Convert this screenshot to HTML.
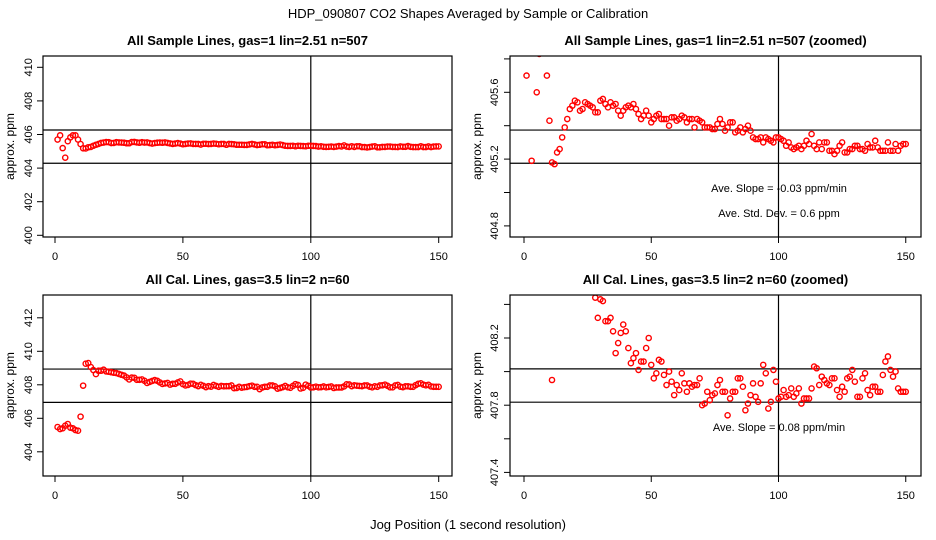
<!DOCTYPE html>
<html><head><meta charset="utf-8"><style>
html,body{margin:0;padding:0;background:#fff;width:936px;height:540px;overflow:hidden;}
svg{display:block;font-family:"Liberation Sans",sans-serif;overflow:hidden;}
</style></head><body>
<svg id="c" width="936" height="540">
<text x="468" y="18" text-anchor="middle" font-size="13">HDP_090807  CO2 Shapes Averaged by Sample or Calibration</text>
<text x="468" y="529" text-anchor="middle" font-size="13">Jog Position (1 second resolution)</text>
</svg>
<script>
const sampleVals=[405.70,405.95,405.19,404.62,405.60,405.83,405.95,405.95,405.70,405.43,405.18,405.17,405.24,405.26,405.33,405.39,405.44,405.50,405.52,405.55,405.54,405.49,405.50,405.54,405.53,405.52,405.51,405.48,405.48,405.55,405.56,405.53,405.51,405.54,405.52,405.53,405.49,405.46,405.49,405.51,405.52,405.51,405.53,405.50,405.47,405.44,405.46,405.49,405.46,405.42,405.44,405.46,405.47,405.44,405.44,405.44,405.40,405.45,405.45,405.43,405.44,405.46,405.45,405.42,405.44,405.44,405.39,405.44,405.43,405.42,405.39,405.39,405.39,405.38,405.38,405.41,405.44,405.41,405.37,405.39,405.42,405.42,405.36,405.37,405.39,405.36,405.38,405.40,405.37,405.33,405.32,405.32,405.33,405.30,405.33,405.32,405.31,405.30,405.33,405.33,405.32,405.31,405.28,405.30,405.27,405.26,405.27,405.28,405.26,405.28,405.31,405.29,405.35,405.28,405.26,405.30,405.26,405.30,405.30,405.25,405.25,405.23,405.25,405.28,405.30,405.24,405.24,405.26,405.26,405.28,405.28,405.26,405.26,405.25,405.29,405.27,405.27,405.31,405.27,405.25,405.25,405.25,405.30,405.25,405.25,405.29,405.25,405.28,405.29,405.29];
const calVals=[405.48,405.36,405.40,405.56,405.66,405.44,405.40,405.30,405.26,406.10,407.95,409.26,409.30,409.06,408.88,408.64,408.84,408.84,408.90,408.80,408.78,408.75,408.72,408.70,408.65,408.60,408.55,408.44,408.32,408.43,408.42,408.30,408.30,408.32,408.24,408.11,408.17,408.23,408.28,408.24,408.14,408.05,408.08,408.11,408.01,408.06,408.06,408.14,408.20,408.04,407.96,407.99,408.07,408.06,407.98,407.92,408.00,407.94,407.86,407.92,407.89,407.99,407.93,407.88,407.93,407.91,407.92,407.92,407.96,407.80,407.81,407.88,407.83,407.86,407.87,407.92,407.95,407.88,407.88,407.74,407.84,407.88,407.88,407.96,407.96,407.91,407.77,407.81,407.86,407.93,407.85,407.82,407.93,408.04,407.99,407.78,407.82,408.01,407.94,407.84,407.85,407.89,407.85,407.86,407.90,407.85,407.87,407.90,407.81,407.84,407.84,407.84,407.90,408.03,408.02,407.92,407.97,407.95,407.93,407.92,407.96,407.96,407.89,407.85,407.91,407.88,407.96,407.97,408.01,407.94,407.85,407.85,407.96,407.99,407.89,407.86,407.91,407.91,407.88,407.88,407.98,408.06,408.09,408.01,407.97,408.00,407.90,407.88,407.88,407.88];
const xTicks=[0,50,100,150];
const p1Ticks=[400,402,404,406,408,410], p1Labels=["400","402","404","406","408","410"];
const p2Ticks=[404.8,405.0,405.2,405.4,405.6,405.8], p2Labels=["404.8","","405.2","","405.6",""];
const p3Ticks=[404,406,408,410,412], p3Labels=["404","406","408","410","412"];
const p4Ticks=[407.4,407.6,407.8,408.0,408.2,408.4], p4Labels=["407.4","","407.8","","408.2",""];
const p1H=[406.27,404.29], p2H=[405.374,405.175], p3H=[408.94,406.95], p4H=[408.016,407.818];
const NS="http://www.w3.org/2000/svg", svg=document.getElementById('c');
function el(t,a,p){const e=document.createElementNS(NS,t);for(const k in a)e.setAttribute(k,a[k]);(p||svg).appendChild(e);return e;}
const panels=[
 {id:'p1',title:'All Sample Lines, gas=1 lin=2.51 n=507',x0:43,x1:452,y0:56,y1:237,xz:55,xs:2.558,yr:410,yp:67.3,ys:16.8,data:sampleVals,ticks:p1Ticks,labels:p1Labels,h:p1H,labX:28,ttlX:10,notes:[]},
 {id:'p2',title:'All Sample Lines, gas=1 lin=2.51 n=507 (zoomed)',x0:510,x1:921,y0:56,y1:237,xz:524,xs:2.545,yr:405.6,yp:92.3,ys:167,data:sampleVals,ticks:p2Ticks,labels:p2Labels,h:p2H,labX:494,ttlX:477,notes:[['Ave. Slope =  -0.03  ppm/min',779,192],['Ave. Std. Dev. =  0.6  ppm',779,217]]},
 {id:'p3',title:'All Cal. Lines, gas=3.5 lin=2 n=60',x0:43,x1:452,y0:295,y1:476,xz:55,xs:2.558,yr:410,yp:351.3,ys:16.75,data:calVals,ticks:p3Ticks,labels:p3Labels,h:p3H,labX:28,ttlX:10,notes:[]},
 {id:'p4',title:'All Cal. Lines, gas=3.5 lin=2 n=60 (zoomed)',x0:510,x1:921,y0:295,y1:476,xz:524,xs:2.545,yr:408.2,yp:338,ys:168,data:calVals,ticks:p4Ticks,labels:p4Labels,h:p4H,labX:494,ttlX:477,notes:[['Ave. Slope =  0.08  ppm/min',779,431]]}
];
panels.forEach((p,pi)=>{
 const X=v=>p.xz+v*p.xs, Y=v=>p.yp+(p.yr-v)*p.ys;
 const g=el('g',{});
 
 
 const cp=el('clipPath',{id:'clip'+pi},g);
 el('rect',{x:p.x0,y:p.y0,width:p.x1-p.x0,height:p.y1-p.y0},cp);
 const t=el('text',{x:(p.x0+p.x1)/2,y:p.y0-11,'text-anchor':'middle','font-size':13,'font-weight':'bold'},g);
 t.textContent=p.title;
 
 
 const yt=el('text',{x:0,y:0,'text-anchor':'middle','font-size':12,transform:`translate(${p.ttlX+4},${(p.y0+p.y1)/2}) rotate(-90)`},g);
 yt.textContent='approx. ppm';
 
 
 xTicks.forEach(v=>{
  const x=X(v);
  el('line',{x1:x,x2:x,y1:p.y1,y2:p.y1+6,stroke:'#000'},g);
  const l=el('text',{x:x,y:p.y1+23,'text-anchor':'middle','font-size':11},g);
  l.textContent=String(v);
  
  
 });
 p.ticks.forEach((v,i)=>{
  const y=Y(v);
  el('line',{x1:p.x0-6,x2:p.x0,y1:y,y2:y,stroke:'#000'},g);
  if(p.labels[i]){
   const l=el('text',{x:0,y:0,'text-anchor':'middle','font-size':11,transform:`translate(${p.labX+4},${y}) rotate(-90)`},g);
   l.textContent=p.labels[i];
   
   
  }
 });
 const pl=el('g',{'clip-path':`url(#clip${pi})`},g);
 p.h.forEach(v=>{
  const hl=el('line',{x1:p.x0,x2:p.x1,y1:Y(v),y2:Y(v),stroke:'#000','stroke-width':1.2},pl);
  
  
 });
 const vl=el('line',{x1:X(100),x2:X(100),y1:p.y0,y2:p.y1,stroke:'#000','stroke-width':1.2},pl);
 
 
 p.data.forEach((v,i)=>{
  const c=el('circle',{cx:X(i+1),cy:Y(v),r:2.6,fill:'none',stroke:'#f00','stroke-width':1.4},pl);
  
  
 });
 p.notes.forEach(n=>{
  const tt=el('text',{x:n[1],y:n[2],'text-anchor':'middle','font-size':11},g);
  tt.textContent=n[0];
  
  
 });
 const b=el('rect',{x:p.x0,y:p.y0,width:p.x1-p.x0,height:p.y1-p.y0,fill:'none',stroke:'#000','stroke-width':1.2},g);
 
 
});
</script>
</body></html>
